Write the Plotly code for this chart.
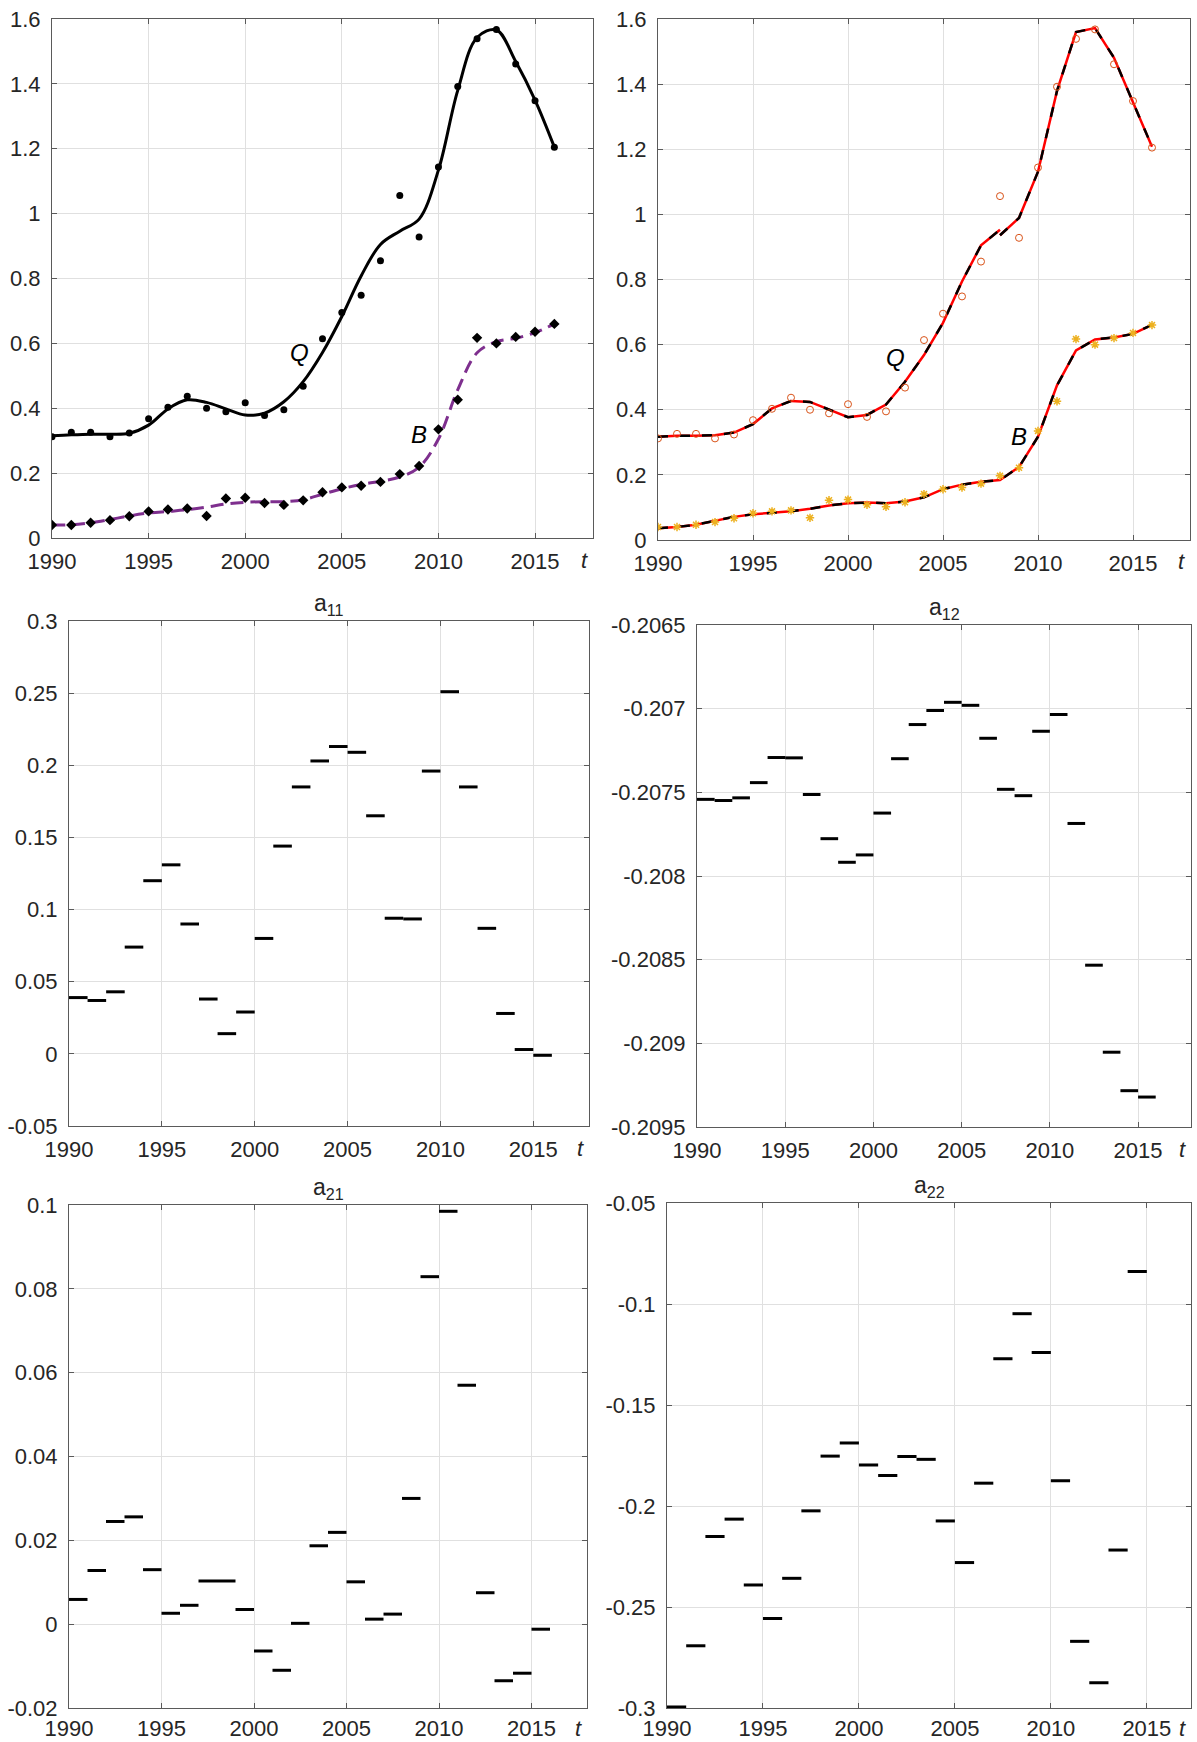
import plotly.graph_objects as go

# ---------------------------------------------------------------- data
years = list(range(1990, 2017))

# observed values
Q_obs = [0.312, 0.326, 0.326, 0.312, 0.324, 0.368, 0.403, 0.437, 0.400, 0.389,
         0.417, 0.378, 0.395, 0.468, 0.614, 0.695, 0.748, 0.855, 1.056, 0.928,
         1.144, 1.392, 1.539, 1.568, 1.461, 1.348, 1.205]
B_obs = [0.040, 0.040, 0.047, 0.055, 0.067, 0.082, 0.088, 0.091, 0.068, 0.122,
         0.124, 0.108, 0.102, 0.116, 0.141, 0.156, 0.161, 0.173, 0.197, 0.222,
         0.335, 0.426, 0.617, 0.600, 0.620, 0.636, 0.660]

# smoothed trends (spline knots at each year)
Q_smooth = [0.315, 0.318, 0.320, 0.320, 0.323, 0.348, 0.398, 0.426, 0.418, 0.398,
            0.379, 0.385, 0.420, 0.482, 0.572, 0.683, 0.808, 0.905, 0.946, 0.983,
            1.134, 1.380, 1.543, 1.566, 1.469, 1.350, 1.205]
B_smooth = [0.040, 0.041, 0.047, 0.057, 0.068, 0.077, 0.082, 0.087, 0.095, 0.105,
            0.110, 0.112, 0.112, 0.118, 0.135, 0.152, 0.165, 0.175, 0.188, 0.218,
            0.305, 0.457, 0.571, 0.605, 0.616, 0.633, 0.660]

# piecewise model solution (restarted at 2008)
Q_model_years = list(range(1990, 2009)) + [None] + list(range(2008, 2017))
Q_model = [0.317, 0.320, 0.320, 0.322, 0.330, 0.356, 0.404, 0.427, 0.424, 0.401,
           0.377, 0.384, 0.416, 0.486, 0.568, 0.667, 0.794, 0.905, 0.953, None,
           0.936, 0.989, 1.131, 1.379, 1.560, 1.572, 1.481, 1.346, 1.208]
B_model = [0.036, 0.040, 0.047, 0.059, 0.071, 0.079, 0.083, 0.088, 0.096, 0.106,
           0.113, 0.115, 0.113, 0.118, 0.131, 0.156, 0.170, 0.179, 0.184, 0.224,
           0.317, 0.475, 0.582, 0.616, 0.622, 0.633, 0.661]

# yearly coefficient estimates (constant on [year, year+1])
a11_years = list(range(1990, 2016))
a11 = [0.039, 0.037, 0.043, 0.074, 0.120, 0.131, 0.090, 0.038, 0.014, 0.029,
       0.080, 0.144, 0.185, 0.203, 0.213, 0.209, 0.165, 0.094, 0.0935, 0.196,
       0.251, 0.185, 0.087, 0.028, 0.003, -0.001]
a12_years = list(range(1990, 2016))
a12 = [-0.207542, -0.207549, -0.207533, -0.207442, -0.207292, -0.207294,
       -0.207513, -0.207777, -0.207918, -0.207874, -0.207624, -0.207299,
       -0.207095, -0.207011, -0.206962, -0.206980, -0.207177, -0.207482,
       -0.207520, -0.207135, -0.207035, -0.207686, -0.208533, -0.209053,
       -0.209283, -0.209321]
a21_years = list(range(1990, 2016))
a21 = [0.0059, 0.0128, 0.0245, 0.0256, 0.0130, 0.0026, 0.0045, 0.0103, 0.0103,
       0.0035, -0.0064, -0.0110, 0.0002, 0.0187, 0.0219, 0.0101, 0.0012, 0.0024,
       0.0300, 0.0829, 0.0985, 0.0570, 0.0075, -0.0135, -0.0117, -0.0012]
a22_years = list(range(1990, 2015))
a22 = [-0.2995, -0.2692, -0.2151, -0.2065, -0.2391, -0.2557, -0.2358, -0.2024,
       -0.1753, -0.1688, -0.1797, -0.1849, -0.1755, -0.1769, -0.2074, -0.2280,
       -0.1887, -0.1271, -0.1048, -0.1240, -0.1875, -0.2670, -0.2875, -0.2218,
       -0.0839]

x_ticks = [1990, 1995, 2000, 2005, 2010, 2015]
yt_top = [0, 0.2, 0.4, 0.6, 0.8, 1.0, 1.2, 1.4, 1.6]
yt_a11 = [-0.05, 0, 0.05, 0.1, 0.15, 0.2, 0.25, 0.3]
yt_a12 = [-0.2095, -0.209, -0.2085, -0.208, -0.2075, -0.207, -0.2065]
yt_a21 = [-0.02, 0, 0.02, 0.04, 0.06, 0.08, 0.1]
yt_a22 = [-0.3, -0.25, -0.2, -0.15, -0.1, -0.05]

# ---------------------------------------------------------------- layout helpers
W, H = 1197, 1742
FONT = "Liberation Sans, Arial, sans-serif"
TXT = "#262626"
GRID = "#e0e0e0"
AXLINE = "#5a5a5a"
TICK_SIZE = 22

# plot boxes in pixels: left, right, top, bottom
boxes = {
    1: (52, 593, 19, 538),
    2: (658, 1190, 19, 540),
    3: (69, 589, 621, 1126),
    4: (697, 1191, 625, 1127),
    5: (69, 587, 1205, 1708),
    6: (667, 1191, 1203, 1708),
}
x_ranges = {1: [1990, 2018], 2: [1990, 2018], 3: [1990, 2018],
            4: [1990, 2018], 5: [1990, 2018], 6: [1990, 2017.3]}
y_ranges = {1: [0, 1.6], 2: [0, 1.6], 3: [-0.05, 0.3], 4: [-0.2095, -0.2065],
            5: [-0.02, 0.1], 6: [-0.3, -0.05]}
y_ticks = {1: yt_top, 2: yt_top, 3: yt_a11, 4: yt_a12, 5: yt_a21, 6: yt_a22}
# bottom row sits close to the page edge, so its labels hug the axis a bit more
x_standoff = {1: 4, 2: 4, 3: 4, 4: 4, 5: 1, 6: 1}


def fmt(v):
    s = ("%.4f" % v).rstrip("0").rstrip(".")
    return "0" if s in ("-0", "") else s


fig = go.Figure()
layout = dict(
    width=W, height=H, autosize=False,
    margin=dict(l=0, r=0, t=0, b=0, pad=0),
    paper_bgcolor="white", plot_bgcolor="white",
    showlegend=False,
    font=dict(family=FONT, size=TICK_SIZE, color=TXT),
)

for i, (l, r, t, b) in boxes.items():
    sfx = "" if i == 1 else str(i)
    common = dict(showline=True, linecolor=AXLINE, linewidth=1, mirror="ticks",
                  ticks="inside", ticklen=5, tickcolor=AXLINE, tickwidth=1,
                  showgrid=True, gridcolor=GRID, gridwidth=1, zeroline=False,
                  automargin=False,
                  tickfont=dict(family=FONT, size=TICK_SIZE, color=TXT))
    layout["xaxis" + sfx] = dict(
        common, domain=[l / W, r / W], range=x_ranges[i],
        anchor="y" + sfx, tickvals=x_ticks, ticktext=[str(v) for v in x_ticks],
        ticklabelstandoff=x_standoff[i])
    layout["yaxis" + sfx] = dict(
        common, domain=[1 - b / H, 1 - t / H], range=y_ranges[i],
        anchor="x" + sfx, tickvals=y_ticks[i],
        ticktext=[fmt(v) for v in y_ticks[i]], ticklabelstandoff=6)

fig.update_layout(**layout)

# ---------------------------------------------------------------- panel 1: data + smoothed trends
fig.add_trace(go.Scatter(x=years, y=B_smooth, mode="lines", xaxis="x", yaxis="y",
                         line=dict(color="#7E2F8E", width=3, dash="13px,7px",
                                   shape="spline", smoothing=1.0)))
fig.add_trace(go.Scatter(x=years, y=Q_smooth, mode="lines", xaxis="x", yaxis="y",
                         line=dict(color="black", width=3, shape="spline",
                                   smoothing=1.0)))
fig.add_trace(go.Scatter(x=years, y=Q_obs, mode="markers", xaxis="x", yaxis="y",
                         marker=dict(symbol="circle", size=7, color="black")))
fig.add_trace(go.Scatter(x=years, y=B_obs, mode="markers", xaxis="x", yaxis="y",
                         marker=dict(symbol="diamond", size=8, color="black")))

# ---------------------------------------------------------------- panel 2: data + piecewise model
for xs, ys in ((Q_model_years, Q_model), (years, B_model)):
    fig.add_trace(go.Scatter(x=xs, y=ys, mode="lines", xaxis="x2", yaxis="y2",
                             connectgaps=False,
                             line=dict(color="#ff0000", width=2.5)))
    fig.add_trace(go.Scatter(x=xs, y=ys, mode="lines", xaxis="x2", yaxis="y2",
                             connectgaps=False,
                             line=dict(color="black", width=2.5, dash="10px,12px")))
fig.add_trace(go.Scatter(x=years, y=Q_obs, mode="markers", xaxis="x2", yaxis="y2",
                         marker=dict(symbol="circle-open", size=7, color="#D95319",
                                     line=dict(width=1))))
fig.add_trace(go.Scatter(x=years, y=B_obs, mode="markers", xaxis="x2", yaxis="y2",
                         marker=dict(symbol="asterisk-open", size=7, color="#EDB120",
                                     line=dict(width=1.5, color="#EDB120"))))


# ---------------------------------------------------------------- coefficient panels
def steps(yrs, vals):
    xs, ys = [], []
    for yr, v in zip(yrs, vals):
        xs += [yr, yr + 1, None]
        ys += [v, v, None]
    return xs, ys


for idx, (yrs, vals) in zip((3, 4, 5, 6), ((a11_years, a11), (a12_years, a12),
                                           (a21_years, a21), (a22_years, a22))):
    xs, ys = steps(yrs, vals)
    fig.add_trace(go.Scatter(x=xs, y=ys, mode="lines", xaxis="x%d" % idx,
                             yaxis="y%d" % idx, cliponaxis=False,
                             line=dict(color="black", width=3)))

# ---------------------------------------------------------------- annotations
ann = []
for sfx in ("", "2", "3", "4", "5", "6"):
    shift = -22 if sfx in ("", "2", "3", "4") else -20
    ann.append(dict(text="<i>t</i>", xref="x%s domain" % sfx, yref="y%s domain" % sfx,
                    x=1, y=0, xshift=-9, yshift=shift, xanchor="center",
                    yanchor="middle", showarrow=False,
                    font=dict(family=FONT, size=TICK_SIZE, color=TXT)))

titles = {"3": "a<sub>11</sub>", "4": "a<sub>12</sub>",
          "5": "a<sub>21</sub>", "6": "a<sub>22</sub>"}
for sfx, txt in titles.items():
    ann.append(dict(text=txt, xref="x%s domain" % sfx, yref="y%s domain" % sfx,
                    x=0.5, y=1, yanchor="bottom", xanchor="center", yshift=0,
                    showarrow=False, font=dict(family=FONT, size=23, color=TXT)))

for sfx, (qx, qy, bx, by) in {"": (2002.8, 0.571, 2008.97, 0.32),
                              "2": (2002.5, 0.56, 2009.0, 0.317)}.items():
    ann.append(dict(text="<i>Q</i>", x=qx, y=qy, xref="x" + sfx, yref="y" + sfx,
                    showarrow=False, font=dict(family=FONT, size=24, color="black")))
    ann.append(dict(text="<i>B</i>", x=bx, y=by, xref="x" + sfx, yref="y" + sfx,
                    showarrow=False, font=dict(family=FONT, size=24, color="black")))

fig.update_layout(annotations=ann)
fig.write_html("out.html",
               post_script="document.body.style.margin='0';"
                           "document.body.style.overflow='hidden';")
